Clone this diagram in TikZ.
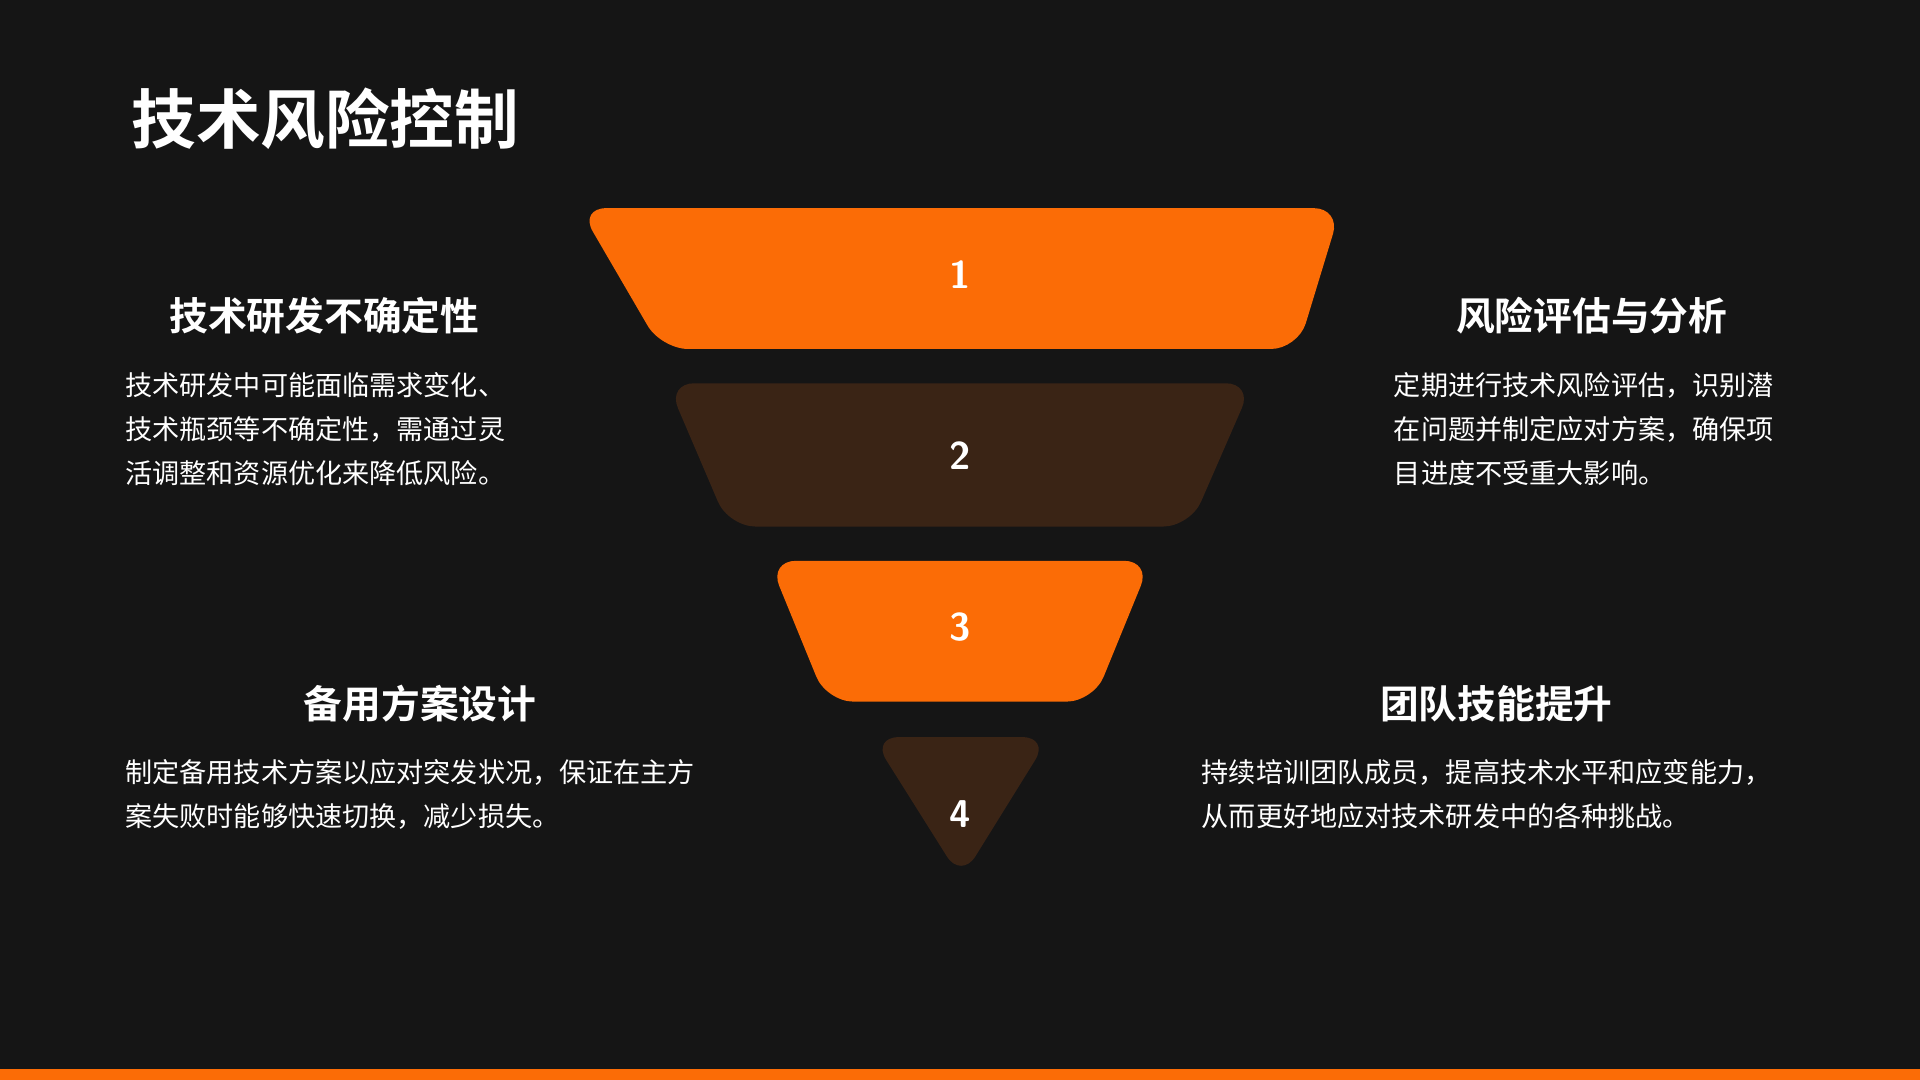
\documentclass[tikz,border=0pt]{standalone}
\usepackage{fontspec}
\newfontfamily\cjk{Noto Sans CJK SC}
\newfontfamily\cjkbold{Noto Sans CJK SC Bold}
\definecolor{bgdark}{HTML}{151515}
\definecolor{funorange}{HTML}{FB6C06}
\definecolor{funbrown}{HTML}{3A2415}
\begin{document}
\begin{tikzpicture}
        [x=0.01cm, y=-0.01cm,
        every node/.style={text=white},
        title/.style={font=\cjkbold\fontsize{15}{18}\selectfont, anchor=west},
        heading/.style={font=\cjkbold\fontsize{9}{11}\selectfont},
        bodytext/.style={font=\cjk\fontsize{6.3}{10.2}\selectfont, anchor=north west, align=left},
        num/.style={font=\bfseries\sffamily\fontsize{9}{11}\selectfont},
        layer/.style={rounded corners=0.22cm}]

    \fill[bgdark] (0,0) rectangle (1568,882);
    \fill[funorange] (0,873) rectangle (1568,882);

    \node[title] (title) at (95,97) {技术风险控制};

    % funnel layers
    \fill[funorange, layer] (473,170) -- (1095,170) -- (1060,285) -- (540,285) -- cycle;
    \fill[funbrown, layer] (545,313) -- (1023,313) -- (972,430) -- (595,430) -- cycle;
    \fill[funorange, layer] (628,458) -- (940,458) -- (893,573) -- (675,573) -- cycle;
    \fill[funbrown, layer] (712,602) -- (857,602) -- (785,718) -- cycle;

    \node[num] (n1) at (784,224) {1};
    \node[num] (n2) at (784,372) {2};
    \node[num] (n3) at (784,512) {3};
    \node[num] (n4) at (784,665) {4};

    % left side
    \node[heading] (h1) at (265,258) {技术研发不确定性};
    \node[bodytext] (b1) at (90,292) {技术研发中可能面临需求变化、\\技术瓶颈等不确定性，需通过灵\\活调整和资源优化来降低风险。};
    \node[heading] (h3) at (343,575) {备用方案设计};
    \node[bodytext] (b3) at (90,608) {制定备用技术方案以应对突发状况，保证在主方\\案失败时能够快速切换，减少损失。};

    % right side
    \node[heading] (h2) at (1300,258) {风险评估与分析};
    \node[bodytext] (b2) at (1126,292) {定期进行技术风险评估，识别潜\\在问题并制定应对方案，确保项\\目进度不受重大影响。};
    \node[heading] (h4) at (1222,575) {团队技能提升};
    \node[bodytext] (b4) at (969,608) {持续培训团队成员，提高技术水平和应变能力，\\从而更好地应对技术研发中的各种挑战。};
\end{tikzpicture}
\end{document}
